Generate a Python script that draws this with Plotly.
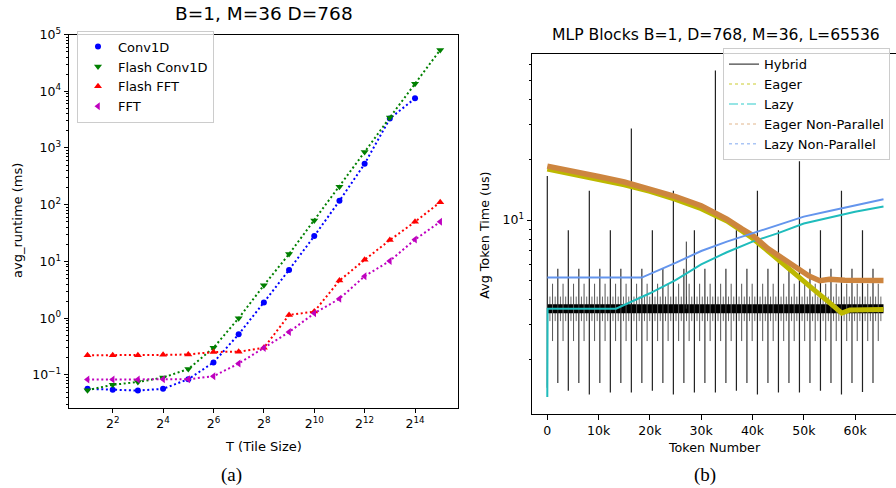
import plotly.graph_objects as go

W, H = 896, 488

# ---------------- Panel (a) data ----------------
tile_T = [2, 4, 8, 16, 32, 64, 128, 256, 512, 1024, 2048, 4096, 8192, 16384, 32768]
tile_tickvals = [4, 16, 64, 256, 1024, 4096, 16384]
tile_ticktext = ["2<sup>2</sup>", "2<sup>4</sup>", "2<sup>6</sup>", "2<sup>8</sup>",
                 "2<sup>10</sup>", "2<sup>12</sup>", "2<sup>14</sup>"]
conv1d_ms = [0.057, 0.055, 0.053, 0.057, 0.084, 0.166, 0.52, 1.9, 7.1, 28, 117, 525, 3300, 7500]
flash_conv1d_ms = [0.054, 0.067, 0.075, 0.090, 0.127, 0.30, 1.0, 3.8, 13.5, 53, 207, 850, 3450, 13500, 53500]
flash_fft_ms = [0.222, 0.222, 0.222, 0.226, 0.229, 0.254, 0.257, 0.30, 1.14, 1.31, 4.6, 10.7, 23.8, 50, 111]
fft_ms = [0.083, 0.083, 0.083, 0.084, 0.084, 0.095, 0.159, 0.30, 0.57, 1.22, 2.2, 5.5, 10.2, 24.4, 50]
runtime_tickvals = [0.1, 1, 10, 100, 1000, 10000, 100000]
runtime_ticktext = ["10<sup>\u22121</sup>", "10<sup>0</sup>", "10<sup>1</sup>", "10<sup>2</sup>",
                    "10<sup>3</sup>", "10<sup>4</sup>", "10<sup>5</sup>"]

# ---------------- Panel (b) data ----------------
# Hybrid: dense band level plus periodic spikes (token, top, bottom)
hybrid_band_tokens = [0, 65536]
hybrid_band_us = [3.6, 3.6]
hyb_pos_4k = [0, 4096, 8192, 12288, 16384, 20480, 24576, 28672, 32768, 36864, 40960,
              45056, 49152, 53248, 57344, 61440]
hyb_top_4k = [16.6, 8.9, 14.0, 8.9, 28.7, 8.9, 14.0, 8.9, 56.0, 8.9, 14.0, 8.9, 19.7, 8.9, 14.0, 8.9]
hyb_bot_4k = [1.45, 1.40, 1.34, 1.37, 1.37, 1.40, 1.34, 1.37, 1.37, 1.40, 1.34, 1.37, 1.37, 1.40, 1.34, 1.38]
hyb_pos_2k = [2048, 6144, 10240, 14336, 18432, 22528, 26624, 30720, 34816, 38912, 43008,
              47104, 51200, 55296, 59392, 63488]
hyb_top_2k = [5.7, 5.7, 5.7, 5.7, 5.7, 5.7, 5.7, 5.7, 5.7, 5.7, 5.7, 5.7, 5.7, 5.7, 5.7, 5.7]
hyb_bot_2k = [1.53, 1.53, 1.53, 1.53, 1.53, 1.53, 1.53, 1.53, 1.53, 1.53, 1.53, 1.53, 1.53, 1.53, 1.53, 1.53]
hyb_pos_1k = [1024, 3072, 5120, 7168, 9216, 11264, 13312, 15360, 17408, 19456, 21504, 23552,
              25600, 27648, 29696, 31744, 33792, 35840, 37888, 39936, 41984, 44032, 46080,
              48128, 50176, 52224, 54272, 56320, 58368, 60416, 62464, 64512]
hyb_top_1k = [4.8, 4.8, 4.8, 4.8, 4.8, 4.8, 4.8, 4.8, 4.8, 4.8, 4.8, 4.8, 4.8, 4.8, 4.8, 4.8,
              4.8, 4.8, 4.8, 4.8, 4.8, 4.8, 4.8, 4.8, 4.8, 4.8, 4.8, 4.8, 4.8, 4.8, 4.8, 4.8]
hyb_bot_1k = [2.48, 2.48, 2.48, 2.48, 2.48, 2.48, 2.48, 2.48, 2.48, 2.48, 2.48, 2.48, 2.48, 2.48,
              2.48, 2.48, 2.48, 2.48, 2.48, 2.48, 2.48, 2.48, 2.48, 2.48, 2.48, 2.48, 2.48, 2.48,
              2.48, 2.48, 2.48, 2.48]
hyb_pos_512 = [512, 1536, 2560, 3584, 4608, 5632, 6656, 7680, 8704, 9728, 10752, 11776, 12800,
               13824, 14848, 15872, 16896, 17920, 18944, 19968, 20992, 22016, 23040, 24064,
               25088, 26112, 27136, 28160, 29184, 30208, 31232, 32256, 33280, 34304, 35328,
               36352, 37376, 38400, 39424, 40448, 41472, 42496, 43520, 44544, 45568, 46592,
               47616, 48640, 49664, 50688, 51712, 52736, 53760, 54784, 55808, 56832, 57856,
               58880, 59904, 60928, 61952, 62976, 64000, 65024]
hyb_top_512 = [4.14, 4.14, 4.14, 4.14, 4.14, 4.14, 4.14, 4.14, 4.14, 4.14, 4.14, 4.14, 4.14,
               4.14, 4.14, 4.14, 4.14, 4.14, 4.14, 4.14, 4.14, 4.14, 4.14, 4.14, 4.14, 4.14,
               4.14, 4.14, 4.14, 4.14, 4.14, 4.14, 4.14, 4.14, 4.14, 4.14, 4.14, 4.14, 4.14,
               4.14, 4.14, 4.14, 4.14, 4.14, 4.14, 4.14, 4.14, 4.14, 4.14, 4.14, 4.14, 4.14,
               4.14, 4.14, 4.14, 4.14, 4.14, 4.14, 4.14, 4.14, 4.14, 4.14, 4.14, 4.14]
hyb_bot_512 = [3.12, 3.12, 3.12, 3.12, 3.12, 3.12, 3.12, 3.12, 3.12, 3.12, 3.12, 3.12, 3.12,
               3.12, 3.12, 3.12, 3.12, 3.12, 3.12, 3.12, 3.12, 3.12, 3.12, 3.12, 3.12, 3.12,
               3.12, 3.12, 3.12, 3.12, 3.12, 3.12, 3.12, 3.12, 3.12, 3.12, 3.12, 3.12, 3.12,
               3.12, 3.12, 3.12, 3.12, 3.12, 3.12, 3.12, 3.12, 3.12, 3.12, 3.12, 3.12, 3.12,
               3.12, 3.12, 3.12, 3.12, 3.12, 3.12, 3.12, 3.12, 3.12, 3.12, 3.12, 3.12]
hyb_extra_pos = [27100]
hyb_extra_top = [7.8]
hyb_extra_bot = [3.6]

eager_tokens = [0, 5000, 10000, 15000, 20000, 25000, 30000, 35000, 38000, 40000, 43000, 46000,
                49000, 52000, 55000, 57400, 59000, 62000, 65536]
eager_us = [18.0, 17.0, 16.0, 15.0, 13.9, 12.7, 11.4, 9.9, 8.8, 8.1, 7.0, 6.0, 5.2, 4.47,
            3.86, 3.42, 3.55, 3.57, 3.57]
lazy_tokens = [0, 60, 5000, 10000, 13400, 20000, 25000, 30000, 35000, 40000, 45000, 50000,
               55000, 60000, 65536]
lazy_us = [1.3, 3.6, 3.6, 3.6, 3.6, 4.3, 5.0, 6.0, 6.9, 7.8, 8.6, 9.6, 10.3, 11.0, 11.7]
eager_np_tokens = [0, 5000, 10000, 15000, 20000, 25000, 30000, 35000, 38000, 40000, 43000, 46000,
                   49000, 51000, 53100, 55000, 58000, 61000, 65536]
eager_np_us = [18.6, 17.6, 16.5, 15.5, 14.3, 13.1, 11.8, 10.1, 9.0, 8.4, 7.2, 6.4, 5.6, 5.25,
               4.97, 5.05, 5.0, 5.0, 4.98]
lazy_np_tokens = [0, 18400, 25000, 30000, 35000, 40000, 45000, 50000, 55000, 60000, 65536]
lazy_np_us = [5.15, 5.15, 6.1, 7.0, 7.8, 8.6, 9.45, 10.4, 11.1, 11.8, 12.7]
token_tickvals = [0, 10000, 20000, 30000, 40000, 50000, 60000]
token_ticktext = ["0", "10k", "20k", "30k", "40k", "50k", "60k"]

FONT = "DejaVu Sans"


def px_x(p):
    return p / W


def px_y(p):
    return 1 - p / H


def segments(pos, top, bot):
    xs, ys = [], []
    for p, t, b in zip(pos, top, bot):
        xs += [p, p, None]
        ys += [b, t, None]
    return xs, ys


fig = go.Figure()

# ---------- Panel (a) traces ----------
dash_dot = "2px,2.6px"
series_a = [
    ("Conv1D", conv1d_ms, "#0000ff", "circle", 6),
    ("Flash Conv1D", flash_conv1d_ms, "#008000", "triangle-down", 7),
    ("Flash FFT", flash_fft_ms, "#ff0000", "triangle-up", 7),
    ("FFT", fft_ms, "#bf00bf", "triangle-left", 7),
]
for name, vals, col, sym, ms in series_a:
    fig.add_trace(go.Scatter(
        x=tile_T[:len(vals)], y=vals, mode="lines+markers", name=name, showlegend=False,
        line=dict(color=col, width=2, dash=dash_dot),
        marker=dict(symbol=sym, size=ms, color=col, line=dict(width=0)),
        xaxis="x", yaxis="y"))
for name, vals, col, sym, ms in series_a:
    fig.add_trace(go.Scatter(
        x=[None], y=[None], mode="markers", name=name, legend="legend",
        marker=dict(symbol=sym, size=ms, color=col, line=dict(width=0)),
        xaxis="x", yaxis="y"))

# ---------- Panel (b) traces ----------
for pos, top, bot, col, wd in [
    (hyb_pos_512, hyb_top_512, hyb_bot_512, "#6a6a6a", 1),
]:
    xs, ys = segments(pos, top, bot)
    fig.add_trace(go.Scatter(x=xs, y=ys, mode="lines", line=dict(color=col, width=wd),
                             showlegend=False, connectgaps=False, xaxis="x2", yaxis="y2"))
fig.add_trace(go.Scatter(x=hybrid_band_tokens, y=hybrid_band_us, mode="lines",
                         line=dict(color="#000000", width=9), showlegend=False,
                         xaxis="x2", yaxis="y2"))
for pos, top, bot, col, wd in [
    (hyb_pos_1k, hyb_top_1k, hyb_bot_1k, "#555555", 1),
    (hyb_pos_2k, hyb_top_2k, hyb_bot_2k, "#333333", 1.2),
    (hyb_pos_4k, hyb_top_4k, hyb_bot_4k, "#222222", 1.2),
    (hyb_extra_pos, hyb_extra_top, hyb_extra_bot, "#333333", 1),
]:
    xs, ys = segments(pos, top, bot)
    fig.add_trace(go.Scatter(x=xs, y=ys, mode="lines", line=dict(color=col, width=wd),
                             showlegend=False, connectgaps=False, xaxis="x2", yaxis="y2"))

fig.add_trace(go.Scatter(x=eager_tokens, y=eager_us, mode="lines",
                         line=dict(color="#bdb800", width=5), showlegend=False,
                         xaxis="x2", yaxis="y2"))
fig.add_trace(go.Scatter(x=lazy_tokens, y=lazy_us, mode="lines",
                         line=dict(color="#1fbcbc", width=2), showlegend=False,
                         xaxis="x2", yaxis="y2"))
fig.add_trace(go.Scatter(x=eager_np_tokens, y=eager_np_us, mode="lines",
                         line=dict(color="#cd853f", width=5.5), showlegend=False,
                         xaxis="x2", yaxis="y2"))
fig.add_trace(go.Scatter(x=lazy_np_tokens, y=lazy_np_us, mode="lines",
                         line=dict(color="#6495ed", width=2), showlegend=False,
                         xaxis="x2", yaxis="y2"))

legend_b = [
    ("Hybrid", "#444444", "solid", 1.2),
    ("Eager", "rgba(191,191,0,0.55)", "dot", 1.5),
    ("Lazy", "rgba(0,191,191,0.55)", "dashdot", 1.5),
    ("Eager Non-Parallel", "rgba(205,133,63,0.4)", "dot", 1.5),
    ("Lazy Non-Parallel", "rgba(100,149,237,0.55)", "dot", 1.5),
]
for name, col, dash, wd in legend_b:
    fig.add_trace(go.Scatter(x=[None], y=[None], mode="lines", name=name, legend="legend2",
                             line=dict(color=col, dash=dash, width=wd),
                             xaxis="x2", yaxis="y2"))

# ---------- axes ----------
axis_common = dict(showgrid=False, zeroline=False, showline=True, linecolor="#000000",
                   linewidth=1, ticks="outside", ticklen=4.5, tickwidth=1, tickcolor="#000000")

minor_a = []
for e in range(-2, 5):
    for m in range(2, 10):
        v = m * 10 ** e
        if 0.0266 < v < 100000:
            minor_a.append(v)
minor_b = [2, 3, 4, 5, 6, 7, 8, 9, 20, 30, 40, 50, 60]

fig.update_layout(
    xaxis=dict(domain=[px_x(69), px_x(458)], anchor="y", type="log",
               range=[0.0798, 4.728], tickmode="array", tickvals=tile_tickvals,
               ticktext=tile_ticktext, mirror=True,
               tickfont=dict(family=FONT, size=12.5, color="#000"), **axis_common),
    yaxis=dict(domain=[px_y(406), px_y(26)], anchor="x", type="log",
               range=[-1.574, 5], tickmode="array", tickvals=runtime_tickvals,
               ticktext=runtime_ticktext, mirror=True,
               minor=dict(tickmode="array", tickvals=minor_a, ticks="outside", ticklen=2.5,
                          tickwidth=0.8, tickcolor="#000", showgrid=False),
               tickfont=dict(family=FONT, size=12.5, color="#000"), **axis_common),
    xaxis2=dict(domain=[px_x(532), 1.0], anchor="y2",
                range=[-2982, 67973], tickmode="array", tickvals=token_tickvals,
                ticktext=token_ticktext, mirror=True,
                tickfont=dict(family=FONT, size=12.5, color="#000"), **axis_common),
    yaxis2=dict(domain=[px_y(413), px_y(46)], anchor="x2", type="log",
                range=[0.0275, 1.830], tickmode="array", tickvals=[10],
                ticktext=["10<sup>1</sup>"], mirror=False,
                minor=dict(tickmode="array", tickvals=minor_b, ticks="outside", ticklen=2.5,
                           tickwidth=0.8, tickcolor="#000", showgrid=False),
                tickfont=dict(family=FONT, size=12.5, color="#000"), **axis_common),
    legend=dict(x=px_x(77), y=px_y(22), xanchor="left", yanchor="top",
                bgcolor="rgba(255,255,255,0.8)", bordercolor="#cccccc", borderwidth=1,
                font=dict(family=FONT, size=13, color="#000")),
    legend2=dict(x=px_x(723), y=px_y(40), xanchor="left", yanchor="top",
                 bgcolor="rgba(255,255,255,0.8)", bordercolor="#cccccc", borderwidth=1,
                 font=dict(family=FONT, size=13, color="#000")),
    width=W, height=H, autosize=False,
    margin=dict(l=0, r=0, t=0, b=0),
    paper_bgcolor="white", plot_bgcolor="white",
    showlegend=True,
)

annots = [
    dict(text="B=1, M=36 D=768", x=px_x(263.5), y=px_y(5), size=18.5, family=FONT, angle=0),
    dict(text="MLP Blocks B=1, D=768, M=36, L=65536", x=px_x(716), y=px_y(26), size=15.6,
         family=FONT, angle=0),
    dict(text="avg_runtime (ms)", x=px_x(17), y=px_y(216), size=13, family=FONT, angle=-90),
    dict(text="T (Tile Size)", x=px_x(263), y=px_y(446), size=13, family=FONT, angle=0),
    dict(text="Avg Token Time (us)", x=px_x(485), y=px_y(231), size=12.7, family=FONT, angle=-90),
    dict(text="Token Number", x=px_x(714.5), y=px_y(447), size=12.7, family=FONT, angle=0),
    dict(text="(a)", x=px_x(231), y=px_y(475), size=19, family="Liberation Serif", angle=0),
    dict(text="(b)", x=px_x(705), y=px_y(475), size=19, family="Liberation Serif", angle=0),
]
for a in annots:
    fig.add_annotation(text=a["text"], x=a["x"], y=a["y"], xref="paper", yref="paper",
                       xanchor="center", yanchor="middle", showarrow=False,
                       textangle=a["angle"], font=dict(family=a["family"], size=a["size"],
                                                       color="#000"))

post = ("document.documentElement.style.margin='0';document.body.style.margin='0';"
        "document.body.style.padding='0';document.documentElement.style.overflow='hidden';"
        "var gd=document.getElementById('{plot_id}');gd.style.position='absolute';"
        "gd.style.left='0px';gd.style.top='0px';")
fig.write_html("out.html", post_script=post, config={"displayModeBar": False})
